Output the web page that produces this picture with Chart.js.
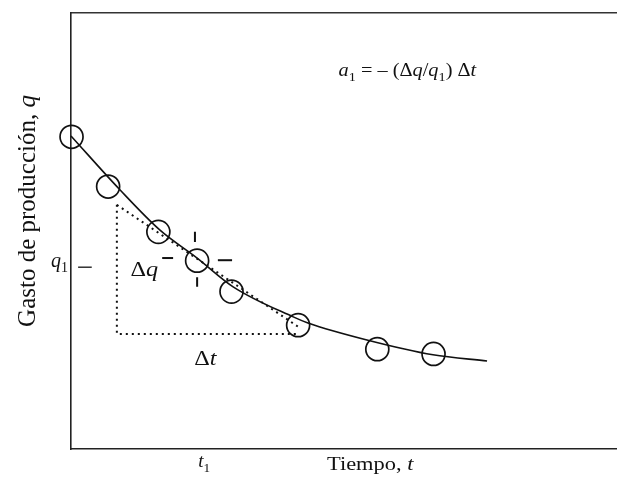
<!DOCTYPE html>
<html>
<head>
<meta charset="utf-8">
<script src="https://cdn.jsdelivr.net/npm/chart.js@4.4.1/dist/chart.umd.min.js"></script>
<style>
  html, body { margin: 0; padding: 0; background: #fff; overflow: hidden; }
  #wrap { width: 617px; height: 492px; position: relative; }
  #c { display: block; }
</style>
</head>
<body>
<div id="wrap"><canvas id="c"></canvas></div>
<script>
// Measured production data points (time, rate) in arbitrary units
const tPoints = [0.1, 6.8, 16.0, 23.1, 29.4, 41.6, 56.1, 66.4];
const qPoints = [71.6, 60.2, 49.8, 43.2, 36.1, 28.4, 22.9, 21.8];

// Fitted decline curve
const tCurve = [0, 9.0, 16.3, 23.1, 29.7, 40.7, 43.4, 54.2, 66.3, 76.2];
const qCurve = [71.8, 59.4, 50.2, 43.8, 37.2, 30.3, 28.9, 25.0, 21.6, 20.2];

// Tangent triangle (dotted)
const tTriangle = [8.4, 8.4, 41.9];
const qTriangle = [56.0, 26.4, 26.4];
const tTangent = [8.4, 41.9];
const qTangent = [56.0, 27.8];

// Cross marks around the point at t1
const crossMarks = [
  { t: [22.7, 22.7], q: [49.8, 47.5] },
  { t: [23.1, 23.1], q: [39.4, 37.2] },
  { t: [16.7, 18.7], q: [43.8, 43.8] },
  { t: [26.9, 29.5], q: [43.3, 43.3] }
];
// q1 level mark next to the axis
const q1Mark = { t: [1.3, 3.8], q: [41.7, 41.7] };

// Axis range
const tMin = 0, tMax = 100, qMin = 0, qMax = 100;

// Label anchors (data units)
const t1Value = 24.4;
const q1Value = 42.6;
const formulaPos = { t: 49.0, q: 86.9 };
const dqPos = { t: 10.9, q: 41.6 };
const dtPos = { t: 24.6, q: 21.0 };
const xTitlePos = 54.8;
const yTitlePos = 54.6;

const toXY = (ts, qs) => ts.map((t, i) => ({ x: t, y: qs[i] }));

const INK = '#111';
const SERIF = '"Liberation Serif", "Times New Roman", serif';

function drawRich(ctx, parts, x, y, size, align, rotate, stretch) {
  ctx.save();
  ctx.translate(x, y);
  if (rotate) ctx.rotate(rotate);
  if (stretch) ctx.scale(stretch, 1);
  ctx.fillStyle = INK;
  ctx.textBaseline = 'alphabetic';
  let total = 0;
  const widths = parts.map(p => {
    const s = p.sub ? size * 0.7 : size;
    ctx.font = (p.italic ? 'italic ' : '') + s + 'px ' + SERIF;
    const w = ctx.measureText(p.text).width;
    total += w;
    return w;
  });
  let cx = align === 'center' ? -total / 2 : (align === 'right' ? -total : 0);
  parts.forEach((p, i) => {
    const s = p.sub ? size * 0.7 : size;
    ctx.font = (p.italic ? 'italic ' : '') + s + 'px ' + SERIF;
    ctx.fillText(p.text, cx, p.sub ? size * 0.25 : 0);
    cx += widths[i];
  });
  ctx.restore();
}

const textPlugin = {
  id: 'texts',
  afterDatasetsDraw(chart) {
    const ctx = chart.ctx;
    const xs = chart.scales.x, ys = chart.scales.y;
    const px = v => xs.getPixelForValue(v);
    const py = v => ys.getPixelForValue(v);
    const area = chart.chartArea;

    // formula
    drawRich(ctx, [
      { text: 'a', italic: true }, { text: '1', sub: true },
      { text: ' = \u2013 (\u0394' }, { text: 'q', italic: true }, { text: '/' },
      { text: 'q', italic: true }, { text: '1', sub: true },
      { text: ') \u0394' }, { text: 't', italic: true }
    ], px(formulaPos.t), py(formulaPos.q) + 6, 19, 'left', 0, 1.07);

    // Δq
    drawRich(ctx, [{ text: '\u0394' }, { text: 'q', italic: true }],
      px(dqPos.t), py(dqPos.q) + 8, 22, 'left', 0, 1.1);

    // Δt
    drawRich(ctx, [{ text: '\u0394' }, { text: 't', italic: true }],
      px(dtPos.t), py(dtPos.q) + 8, 22, 'center', 0, 1.1);

    // q1 label
    drawRich(ctx, [{ text: 'q', italic: true }, { text: '1', sub: true }],
      area.left - 3, py(q1Value) + 4, 20, 'right');

    // t1 label
    drawRich(ctx, [{ text: 't', italic: true }, { text: '1', sub: true }],
      px(t1Value), area.bottom + 18, 19, 'center');

    // x title
    drawRich(ctx, [{ text: 'Tiempo, ' }, { text: 't', italic: true }],
      px(xTitlePos), area.bottom + 21, 19, 'center', 0, 1.18);

    // y title
    drawRich(ctx, [{ text: 'Gasto de producci\u00f3n, ' }, { text: 'q', italic: true }],
      35, py(yTitlePos), 25, 'center', -Math.PI / 2);
  }
};

const lineStyle = {
  showLine: true, pointRadius: 0, borderColor: INK, borderWidth: 1.6,
  fill: false, clip: false
};
const dotted = Object.assign({}, lineStyle, { borderDash: [2, 4], borderWidth: 2 });

const datasets = [
  Object.assign({ label: 'curve', data: toXY(tCurve, qCurve), cubicInterpolationMode: 'monotone' }, lineStyle),
  Object.assign({ label: 'triangle', data: toXY(tTriangle, qTriangle) }, dotted),
  Object.assign({ label: 'tangent', data: toXY(tTangent, qTangent) }, dotted),
  {
    label: 'data', data: toXY(tPoints, qPoints), showLine: false,
    pointRadius: 11.5, pointHoverRadius: 11.5, pointStyle: 'circle',
    pointBorderWidth: 1.7, pointBorderColor: INK,
    pointBackgroundColor: 'rgba(0,0,0,0)', clip: false
  }
];
crossMarks.forEach((m, i) => datasets.push(Object.assign({ label: 'cross' + i, data: toXY(m.t, m.q) }, lineStyle, { borderWidth: 2 })));
datasets.push(Object.assign({ label: 'q1', data: toXY(q1Mark.t, q1Mark.q) }, lineStyle, { borderWidth: 1.3 }));

new Chart(document.getElementById('c'), {
  type: 'scatter',
  data: { datasets },
  options: {
    responsive: true,
    maintainAspectRatio: false,
    animation: false,
    layout: { padding: 0, autoPadding: false },
    plugins: { legend: { display: false }, tooltip: { enabled: false } },
    scales: {
      x: {
        type: 'linear', min: tMin, max: tMax, position: 'bottom',
        grid: { display: false },
        border: { display: true, color: '#222', width: 1.6 },
        ticks: { display: false },
        afterFit: s => { s.height = 43; }
      },
      x2: {
        type: 'linear', min: tMin, max: tMax, position: 'top',
        grid: { display: false },
        border: { display: true, color: '#333', width: 1.6 },
        ticks: { display: false },
        afterFit: s => { s.height = 13; }
      },
      y: {
        type: 'linear', min: qMin, max: qMax,
        grid: { display: false },
        border: { display: true, color: '#222', width: 1.6 },
        ticks: { display: false },
        afterFit: s => { s.width = 71; }
      }
    }
  },
  plugins: [textPlugin]
});
</script>
</body>
</html>
